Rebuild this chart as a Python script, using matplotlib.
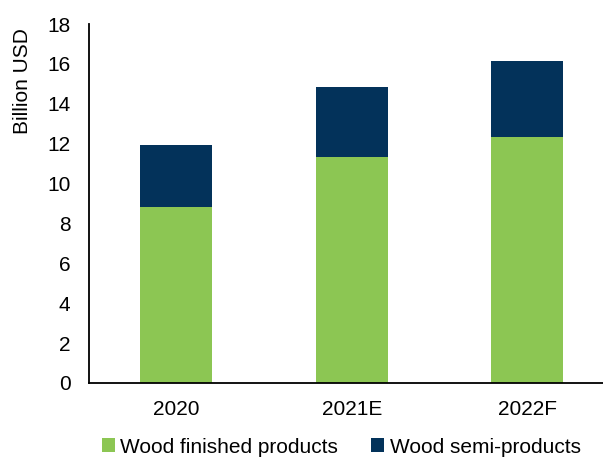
import matplotlib
matplotlib.use('Agg')
import matplotlib.pyplot as plt
import numpy as np

plt.rcParams['font.family'] = ['Liberation Sans', 'DejaVu Sans']

# data
years = ['2020', '2021E', '2022F']
finished = [8.85, 11.35, 12.35]
semi = [3.1, 3.5, 3.8]

green = '#8CC653'
navy = '#03325A'

fig = plt.figure(figsize=(6.03, 4.59), dpi=100)
ax = fig.add_axes([0.1468, 0.1656, 0.873, 0.782])

x = np.arange(len(years))
ax.bar(x, finished, width=0.41, color=green, label='Wood finished products')
ax.bar(x, semi, width=0.41, bottom=finished, color=navy, label='Wood semi-products')

ax.set_xlim(-0.5, 2.5)
ax.set_ylim(0, 18)
ax.set_yticks(range(0, 19, 2))
ax.set_xticks(x)
ax.set_xticklabels(years)
ax.tick_params(axis='both', length=0, labelsize=15)
ax.tick_params(axis='y', pad=13)
ax.tick_params(axis='x', pad=12)
ax.set_ylabel('Billion USD', fontsize=15)
ax.yaxis.set_label_coords(-0.107, 0.84)

for s in ['top', 'right']:
    ax.spines[s].set_visible(False)
for s in ['left', 'bottom']:
    ax.spines[s].set_linewidth(1.3)

fig.legend(loc='center', bbox_to_anchor=(0.566, 0.026), ncol=2, frameon=False,
           fontsize=15, handlelength=0.62, handleheight=0.62, handletextpad=0.25,
           columnspacing=1.6)

fig.savefig('out.png', dpi=100)
